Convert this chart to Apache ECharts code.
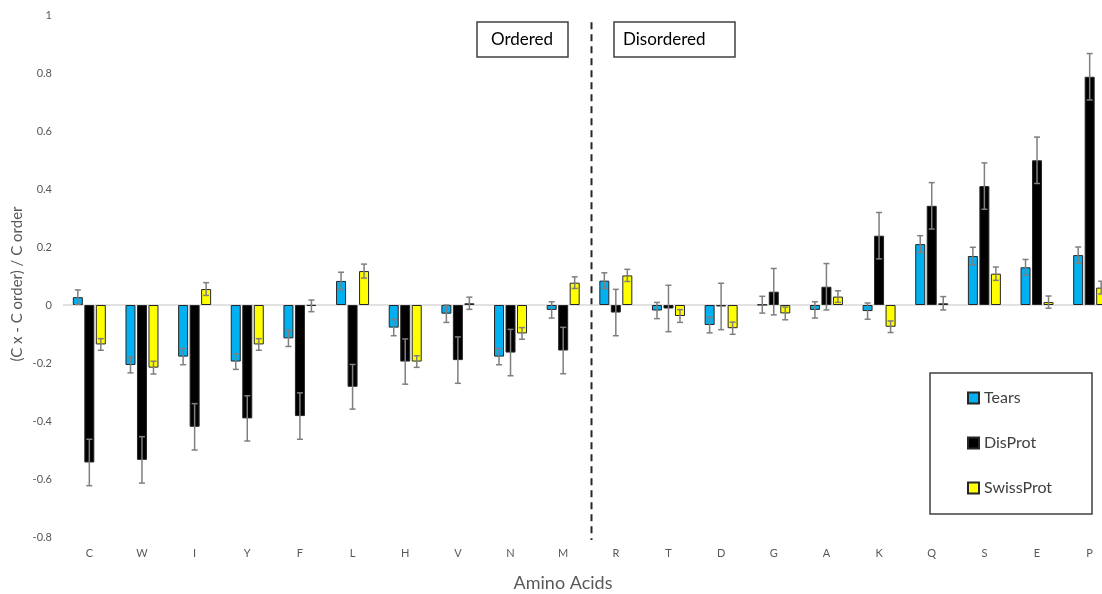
<!DOCTYPE html>
<html><head><meta charset="utf-8">
<script src="https://cdn.jsdelivr.net/npm/echarts@6/dist/echarts.min.js"></script>
<style>html,body{margin:0;padding:0;background:#fff}#c{width:1102px;height:594px}</style>
</head><body><div id="c"></div>
<script>
const categories = ['C','W','I','Y','F','L','H','V','N','M','R','T','D','G','A','K','Q','S','E','P'];
const seriesNames = ['Tears','DisProt','SwissProt'];
const tears     = [0.027,-0.207,-0.178,-0.195,-0.115,0.083,-0.078,-0.030,-0.178,-0.017,0.084,-0.019,-0.069,0.001,-0.017,-0.021,0.210,0.169,0.130,0.172];
const tearsErr  = [0.025,0.027,0.028,0.027,0.028,0.030,0.028,0.030,0.028,0.028,0.027,0.028,0.027,0.029,0.028,0.028,0.029,0.030,0.027,0.028];
const disprot   = [-0.543,-0.534,-0.420,-0.391,-0.383,-0.282,-0.195,-0.190,-0.164,-0.157,-0.026,-0.012,-0.005,0.046,0.063,0.239,0.342,0.410,0.499,0.787];
const disprotErr= [0.080,0.080,0.080,0.078,0.080,0.077,0.078,0.080,0.080,0.080,0.080,0.080,0.080,0.080,0.080,0.080,0.080,0.080,0.080,0.080];
const swiss     = [-0.136,-0.216,0.055,-0.136,-0.003,0.117,-0.195,0.006,-0.098,0.077,0.102,-0.038,-0.080,-0.029,0.029,-0.075,0.006,0.108,0.010,0.060];
const swissErr  = [0.020,0.022,0.022,0.020,0.020,0.024,0.020,0.021,0.020,0.020,0.021,0.022,0.021,0.022,0.020,0.020,0.023,0.023,0.021,0.022];
const yTicks = {min:-0.8, max:1, interval:0.2};
const dividerRange = [-0.81, 0.975];

const FONT = 'Lato, "Open Sans", sans-serif';
const colors = ['#00B0F0','#000000','#FFFF00'];
const BAR_W = 10, STEP = 11.5;
const values = [tears, disprot, swiss];
const errs = [tearsErr, disprotErr, swissErr];

const chart = echarts.init(document.getElementById('c'));

function errSeries(i){
  return {
    type:'custom', name: seriesNames[i] + ' err', z: 5, silent:true,
    data: categories.map((c,k)=>[k, values[i][k], errs[i][k]]),
    renderItem: function(params, api){
      const x = api.coord([api.value(0), 0])[0] + (i-1)*STEP;
      const v = api.value(1), e = api.value(2);
      const yt = api.coord([api.value(0), v+e])[1];
      const yb = api.coord([api.value(0), v-e])[1];
      const st = {stroke:'#7f7f7f', lineWidth:1.5};
      return {type:'group', children:[
        {type:'line', shape:{x1:x,y1:yt,x2:x,y2:yb}, style:st},
        {type:'line', shape:{x1:x-3,y1:yt,x2:x+3,y2:yt}, style:st},
        {type:'line', shape:{x1:x-3,y1:yb,x2:x+3,y2:yb}, style:st}
      ]};
    }
  };
}

const barSeries = seriesNames.map((n,i)=>({
  type:'bar', name:n, data: values[i], barWidth: BAR_W, barGap:'15%',
  itemStyle:{color: colors[i], borderColor:'#262626', borderWidth:1},
  z: 3,
  markLine: i===0 ? {silent:true, symbol:'none', label:{show:false},
    lineStyle:{color:'#d9d9d9', width:1.5, type:'solid'}, data:[{yAxis:0}], z:1} : undefined
}));

const baseGraphic = [
  {type:'text', style:{text:'Amino Acids', x:563, y:583, fill:'#595959', font:'18px '+FONT, align:'center', verticalAlign:'middle'}},
  {type:'text', x:17, y:284, rotation:Math.PI/2, style:{text:'(C x - C order) / C order', x:0, y:0, fill:'#595959', font:'15px '+FONT, align:'center', verticalAlign:'middle'}},
  {type:'rect', shape:{x:477,y:22,width:91,height:35}, style:{fill:'#fff', stroke:'#404040', lineWidth:1.5}},
  {type:'text', style:{text:'Ordered', x:522, y:40, fill:'#000', font:'17px '+FONT, align:'center', verticalAlign:'middle'}},
  {type:'rect', shape:{x:614,y:22,width:121,height:35}, style:{fill:'#fff', stroke:'#404040', lineWidth:1.5}},
  {type:'text', style:{text:'Disordered', x:623, y:40, fill:'#000', font:'17px '+FONT, align:'left', verticalAlign:'middle'}},
  {type:'rect', shape:{x:930,y:373,width:162,height:141}, style:{fill:'none', stroke:'#404040', lineWidth:1.5}, z:-1}
];

chart.setOption({
  animation:false,
  textStyle:{fontFamily: FONT},
  grid:{left:63, top:15, width:1053, height:522, containLabel:false, outerBoundsMode:'none'},
  legend:{data: seriesNames, orient:'vertical', left:962, top:385, itemGap:29,
    itemWidth:11, itemHeight:11, icon:'rect',
    textStyle:{fontSize:16, color:'#404040', fontFamily:FONT}},
  xAxis:{type:'category', data: categories,
    axisLine:{show:false}, axisTick:{show:false},
    axisLabel:{color:'#595959', fontSize:11, margin:11, fontFamily:FONT}},
  yAxis:{type:'value', min:yTicks.min, max:yTicks.max, interval:yTicks.interval,
    axisLine:{show:false}, axisTick:{show:false}, splitLine:{show:false},
    axisLabel:{color:'#595959', fontSize:11, margin:11, fontFamily:FONT}},
  series: barSeries.concat([0,1,2].map(errSeries)),
  graphic: baseGraphic
});

// dashed divider between the ordered (M) and disordered (R) groups
const xm = chart.convertToPixel({xAxisIndex:0}, 'M');
const xr = chart.convertToPixel({xAxisIndex:0}, 'R');
const xd = (xm + xr)/2 + 2;
const y1 = chart.convertToPixel({yAxisIndex:0}, dividerRange[1]);
const y2 = chart.convertToPixel({yAxisIndex:0}, dividerRange[0]);
chart.setOption({graphic: baseGraphic.concat([{type:'line', shape:{x1:xd,y1:y1,x2:xd,y2:y2}, style:{stroke:'#262626', lineWidth:2, lineDash:[7,5]}}])}, {replaceMerge:['graphic']});
</script></body></html>
